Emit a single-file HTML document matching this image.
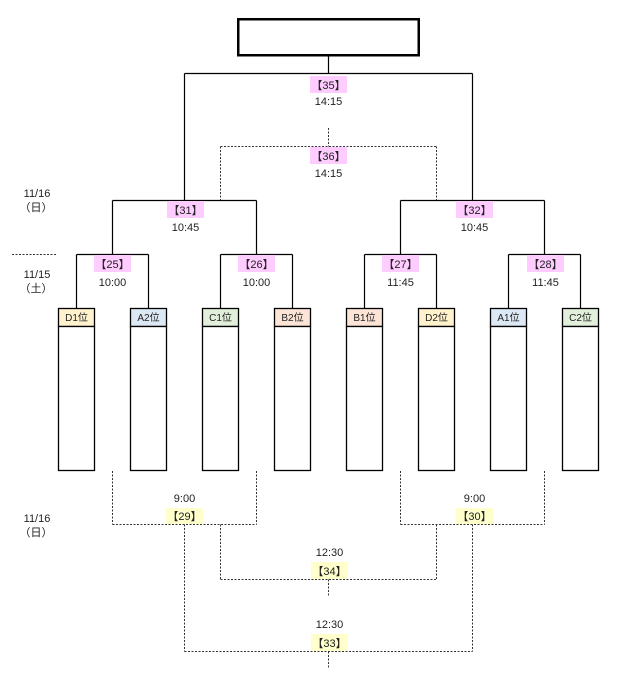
<!DOCTYPE html>
<html><head><meta charset="utf-8"><style>
html,body{margin:0;padding:0;background:#fff;}
svg{display:block;}
text{font-family:"Liberation Sans","Noto Sans CJK JP",sans-serif;fill:#222;}
.t{font-size:11px;text-anchor:middle;}
.h{font-size:10px;text-anchor:middle;}
</style></head><body>
<svg width="627" height="689" viewBox="0 0 627 689" xmlns="http://www.w3.org/2000/svg">
<!-- title box -->
<rect x="238.25" y="19.25" width="180.5" height="36" fill="#fff" stroke="#000" stroke-width="2.5"/>
<g stroke="#000" stroke-width="1.2" fill="none">
<path d="M328.5 56V73.5M184.5 73.5H472.5M184.5 73.5V200.5M472.5 73.5V200.5"/>
<path d="M112.5 200.5H256.5M400.5 200.5H544.5M112.5 200.5V254.5M256.5 200.5V254.5M400.5 200.5V254.5M544.5 200.5V254.5"/>
<path d="M76.5 254.5H148.5M220.5 254.5H292.5M364.5 254.5H436.5M508.5 254.5H580.5"/>
<path d="M76.5 254.5V308.5M148.5 254.5V308.5M220.5 254.5V308.5M292.5 254.5V308.5M364.5 254.5V308.5M436.5 254.5V308.5M508.5 254.5V308.5M580.5 254.5V308.5"/>
</g>
<!-- team boxes -->
<g stroke="#000" stroke-width="1.3">
<rect x="58.5" y="308.5" width="36" height="18" fill="#fff2cc"/>
<rect x="130.5" y="308.5" width="36" height="18" fill="#dde8f5"/>
<rect x="202.5" y="308.5" width="36" height="18" fill="#e2efda"/>
<rect x="274.5" y="308.5" width="36" height="18" fill="#fce4d6"/>
<rect x="346.5" y="308.5" width="36" height="18" fill="#fce4d6"/>
<rect x="418.5" y="308.5" width="36" height="18" fill="#fff2cc"/>
<rect x="490.5" y="308.5" width="36" height="18" fill="#dde8f5"/>
<rect x="562.5" y="308.5" width="36" height="18" fill="#e2efda"/>
<rect x="58.5" y="326.5" width="36" height="144" fill="#fff"/>
<rect x="130.5" y="326.5" width="36" height="144" fill="#fff"/>
<rect x="202.5" y="326.5" width="36" height="144" fill="#fff"/>
<rect x="274.5" y="326.5" width="36" height="144" fill="#fff"/>
<rect x="346.5" y="326.5" width="36" height="144" fill="#fff"/>
<rect x="418.5" y="326.5" width="36" height="144" fill="#fff"/>
<rect x="490.5" y="326.5" width="36" height="144" fill="#fff"/>
<rect x="562.5" y="326.5" width="36" height="144" fill="#fff"/>
</g>
<text class="h" x="76.5" y="321">D1位</text>
<text class="h" x="148.5" y="321">A2位</text>
<text class="h" x="220.5" y="321">C1位</text>
<text class="h" x="292.5" y="321">B2位</text>
<text class="h" x="364.5" y="321">B1位</text>
<text class="h" x="436.5" y="321">D2位</text>
<text class="h" x="508.5" y="321">A1位</text>
<text class="h" x="580.5" y="321">C2位</text>
<!-- dashed -->
<g stroke="#333" stroke-width="1" fill="none" stroke-dasharray="2,1.5">
<path d="M12 254.5H57"/>
<path d="M328.5 128V146.5M220.5 146.5H436.5M220.5 146.5V200M436.5 146.5V200"/>
<path d="M112.5 471V524.5M256.5 471V524.5M112.5 524.5H256.5M400.5 471V524.5M544.5 471V524.5M400.5 524.5H544.5"/>
<path d="M184.5 524.5V651.5M220.5 524.5V579.5M436.5 524.5V579.5M472.5 524.5V651.5"/>
<path d="M220.5 579.5H436.5M328.5 579.5V597"/>
<path d="M184.5 651.5H472.5M328.5 651.5V669"/>
</g>
<!-- labels pink -->
<g fill="#ffccff">
<rect x="310" y="76" width="37" height="17"/>
<rect x="310" y="147" width="37" height="17"/>
<rect x="167" y="201" width="37" height="17"/>
<rect x="456" y="201" width="37" height="17"/>
<rect x="94" y="255" width="37" height="17"/>
<rect x="238" y="255" width="37" height="17"/>
<rect x="382" y="255" width="37" height="17"/>
<rect x="527" y="255" width="37" height="17"/>
</g>
<g fill="#ffffcc">
<rect x="166" y="508" width="37" height="16"/>
<rect x="456" y="508" width="37" height="16"/>
<rect x="311" y="562" width="37" height="17"/>
<rect x="311" y="634" width="37" height="17"/>
</g>
<text class="t" x="328.5" y="89">【35】</text>
<text class="t" x="328.5" y="105">14:15</text>
<text class="t" x="328.5" y="160">【36】</text>
<text class="t" x="328.5" y="177">14:15</text>
<text class="t" x="185.5" y="214">【31】</text>
<text class="t" x="185.5" y="231">10:45</text>
<text class="t" x="474.5" y="214">【32】</text>
<text class="t" x="474.5" y="231">10:45</text>
<text class="t" x="112.5" y="268">【25】</text>
<text class="t" x="112.5" y="286">10:00</text>
<text class="t" x="256.5" y="268">【26】</text>
<text class="t" x="256.5" y="286">10:00</text>
<text class="t" x="400.5" y="268">【27】</text>
<text class="t" x="400.5" y="286">11:45</text>
<text class="t" x="545.5" y="268">【28】</text>
<text class="t" x="545.5" y="286">11:45</text>
<text class="t" x="184.5" y="502">9:00</text>
<text class="t" x="184.5" y="520">【29】</text>
<text class="t" x="474.5" y="502">9:00</text>
<text class="t" x="474.5" y="520">【30】</text>
<text class="t" x="329.5" y="556">12:30</text>
<text class="t" x="329.5" y="575">【34】</text>
<text class="t" x="329.5" y="628">12:30</text>
<text class="t" x="329.5" y="647">【33】</text>
<!-- dates -->
<text class="t" x="37" y="197">11/16</text>
<text class="t" x="36" y="211">（日）</text>
<text class="t" x="37" y="278">11/15</text>
<text class="t" x="36" y="292">（土）</text>
<text class="t" x="37" y="522">11/16</text>
<text class="t" x="36" y="536">（日）</text>
</svg>
</body></html>
